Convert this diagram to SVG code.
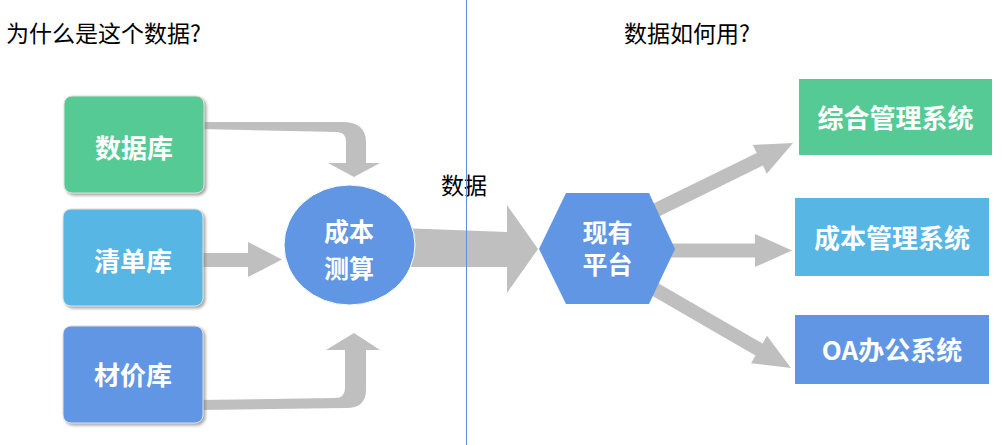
<svg xmlns="http://www.w3.org/2000/svg" width="1002" height="445" viewBox="0 0 1002 445">
<defs>
<style>
.title{font-family:"Noto Sans CJK SC","Liberation Sans",sans-serif;font-size:23px;fill:#000;}
.lbl{font-family:"Noto Sans CJK SC","Liberation Sans",sans-serif;font-weight:bold;fill:#fff;text-anchor:middle;}
.arrow{fill:#bfbfbf;}
.green{fill:#55ca94;}
.lblue{fill:#58b6e4;}
.blue{fill:#6096e4;}
</style>
<filter id="sh" x="-10%" y="-10%" width="125%" height="125%">
<feDropShadow dx="2" dy="2" stdDeviation="1.5" flood-color="#7f7f7f" flood-opacity="0.7"/>
</filter>
</defs>
<rect width="1002" height="445" fill="#fff"/>
<text class="title" x="6" y="42">为什么是这个数据?</text>
<text class="title" x="624" y="42">数据如何用?</text>
<g id="connectors">
<path class="arrow" d="M200 122 L342 122 Q366 122 366 142 L366 163 L380 163 L354 177 L328 163 L346 163 L346 142 Q346 132 337 132 L200 129 Z"/>
<polygon class="arrow" points="200,253 248,253 248,242 282,259.5 248,277 248,267 200,267"/>
<path class="arrow" d="M200 400 L335 398 Q345 398 345 388 L345 350 L326 350 L354 333 L380 350 L366 350 L366 390 Q366 408 346 408 L200 410 Z"/>
<polygon class="arrow" points="400,228 507,232 507,205 538,249 507,293 507,267 400,267"/>
<polygon class="arrow" points="646.2,207.1 756.7,153 752.8,144.9 793,143 766.8,173.7 762.9,165.6 652.4,219.7"/>
<polygon class="arrow" points="650,243.5 755,243.5 755,234 792,250.5 755,267 755,257.5 650,257.5"/>
<polygon class="arrow" points="656.1,281.9 762.5,343.4 767,335.7 791,368 751,363.3 755.5,355.6 649.1,294.1"/>
</g>
<g id="node-shujuku">
<rect class="green" x="64" y="96" width="140" height="97" rx="8" filter="url(#sh)" stroke="#e0e0e0" stroke-width="1"/>
<text class="lbl" x="134" y="158" font-size="26">数据库</text>
</g>
<g id="node-qingdanku">
<rect class="lblue" x="63" y="209" width="140" height="97" rx="8" filter="url(#sh)" stroke="#e0e0e0" stroke-width="1"/>
<text class="lbl" x="133" y="271" font-size="26">清单库</text>
</g>
<g id="node-caijiaku">
<rect class="blue" x="63" y="326" width="140" height="97" rx="8" filter="url(#sh)" stroke="#e0e0e0" stroke-width="1"/>
<text class="lbl" x="133" y="385" font-size="26">材价库</text>
</g>
<g id="node-cost-calc">
<ellipse class="blue" cx="349.5" cy="245" rx="65.5" ry="60" stroke="#fff" stroke-width="1"/>
<text class="lbl" x="349" y="240.5" font-size="25">成本</text>
<text class="lbl" x="349" y="277.5" font-size="25">测算</text>
</g>
<text class="title" x="441" y="194">数据</text>
<g id="node-platform">
<polygon class="blue" points="539,249 566,193 649,193 675,249 649,304 566,304"/>
<text class="lbl" x="607.5" y="241.5" font-size="25">现有</text>
<text class="lbl" x="607.5" y="274" font-size="25">平台</text>
</g>
<g id="node-zonghe">
<rect class="green" x="799" y="79" width="193" height="76"/>
<text class="lbl" x="895.5" y="128" font-size="26">综合管理系统</text>
</g>
<g id="node-chengben">
<rect class="lblue" x="795" y="198" width="194" height="78"/>
<text class="lbl" x="892" y="248" font-size="26">成本管理系统</text>
</g>
<g id="node-oa">
<rect class="blue" x="795" y="315" width="194" height="69"/>
<text class="lbl" x="892" y="360" font-size="26">OA办公系统</text>
</g>
<line x1="466.5" y1="0" x2="466.5" y2="445" stroke="#5b8fe0" stroke-width="1"/>
</svg>
